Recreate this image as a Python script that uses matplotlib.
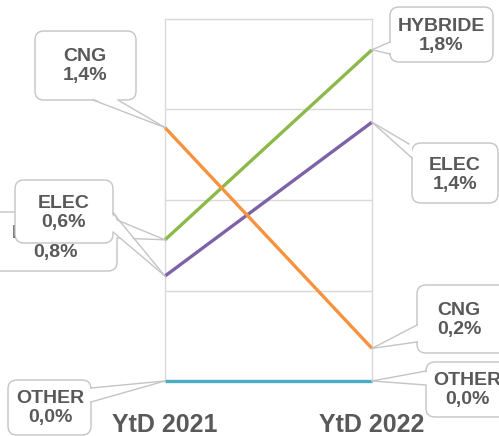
import matplotlib
matplotlib.use('Agg')
import matplotlib.pyplot as plt
from matplotlib.patches import FancyBboxPatch, Polygon
from matplotlib.lines import Line2D
from matplotlib.transforms import Affine2D

plt.rcParams['font.family'] = ['Liberation Sans', 'DejaVu Sans']

# ---- data ----
years = ['YtD 2021', 'YtD 2022']
categories = ['HYBRIDE', 'ELEC', 'CNG', 'OTHER']
values_2021 = [0.78, 0.58, 1.40, 0.00]
values_2022 = [1.83, 1.43, 0.18, 0.00]
colors = ['#8DB84A', '#7E62A8', '#F79240', '#4BACC6']

# ---- layout (pixels, top-left origin) ----
W, H = 499, 436
TXT = '#595959'
EDGE = '#C4C4C4'

fig = plt.figure(figsize=(W / 100, H / 100), dpi=100)
ax = fig.add_axes([165 / W, 1 - 381 / H, (372 - 165) / W, (381 - 19) / H])
ax.set_xlim(0, 1)
ax.set_ylim(0, 2)
for s in ax.spines.values():
    s.set_color('#D9D9D9')
    s.set_linewidth(1)
ax.set_yticks([0.5, 1.0, 1.5])
ax.yaxis.grid(True, color='#D9D9D9', lw=1)
ax.tick_params(axis='y', length=0, labelleft=False)
ax.set_xticks([0, 1])
ax.set_xticklabels(years, fontsize=18, fontweight='bold', color=TXT)
ax.tick_params(axis='x', length=0, pad=23)

for i, cat in enumerate(categories):
    ax.plot([0, 1], [values_2021[i], values_2022[i]], color=colors[i], lw=2.4,
            clip_on=False, solid_capstyle='butt', zorder=3)

pixT = Affine2D().scale(0.01) + fig.dpi_scale_trans


def fmt(v):
    return f"{v:.1f}".replace('.', ',') + '%'


def callout(box, base, text_center, data_xy, text, z):
    x0, y0, x1, y1 = box
    patch = FancyBboxPatch((x0, H - y1), x1 - x0, y1 - y0,
                           boxstyle='round,pad=0,rounding_size=9',
                           transform=pixT, fc='white', ec=EDGE, lw=1,
                           zorder=z)
    fig.add_artist(patch)
    disp = ax.transData.transform(data_xy)
    ptx, pty = pixT.inverted().transform(disp)
    (bx1, by1), (bx2, by2) = base
    b1 = (bx1, H - by1)
    b2 = (bx2, H - by2)
    cx, cy = (x0 + x1) / 2, H - (y0 + y1) / 2

    def inward(p):
        return (p[0] + (cx - p[0]) * 0.05, p[1] + (cy - p[1]) * 0.05)
    poly = Polygon([inward(b1), inward(b2), (ptx, pty)], closed=True,
                   transform=pixT, fc='white', ec='none', zorder=z + 0.1)
    fig.add_artist(poly)
    for b in (b1, b2):
        fig.add_artist(Line2D([b[0], ptx], [b[1], pty], transform=pixT,
                              color=EDGE, lw=1, zorder=z + 0.2))
    fig.text(text_center[0], H - text_center[1], text, transform=pixT,
             ha='center', va='center', fontsize=14, fontweight='bold',
             color=TXT, linespacing=1.15, zorder=z + 0.3)


idx = {c: i for i, c in enumerate(categories)}

callout((35, 31, 136, 100), ((93, 100), (118, 100)), (85, 66),
        (0, values_2021[idx['CNG']]), f"CNG\n{fmt(values_2021[idx['CNG']])}", 10)
callout((-12, 212, 117, 271), ((117, 220), (117, 238)), (55, 243),
        (0, values_2021[idx['HYBRIDE']]), f"HYBRIDE\n{fmt(values_2021[idx['HYBRIDE']])}", 11)
callout((15, 180, 113, 243), ((113, 213), (113, 232)), (64, 213),
        (0, values_2021[idx['ELEC']]), f"ELEC\n{fmt(values_2021[idx['ELEC']])}", 12)
callout((8, 380, 91, 435), ((91, 388), (91, 402)), (50, 408),
        (0, values_2021[idx['OTHER']]), f"OTHER\n{fmt(values_2021[idx['OTHER']])}", 13)

callout((390, 7, 493, 62), ((390, 42), (390, 54)), (441, 36),
        (1, values_2022[idx['HYBRIDE']]), f"HYBRIDE\n{fmt(values_2022[idx['HYBRIDE']])}", 14)
callout((412, 143, 498, 203), ((409, 144), (412, 158)), (455, 175),
        (1, values_2022[idx['ELEC']]), f"ELEC\n{fmt(values_2022[idx['ELEC']])}", 15)
callout((417, 285, 510, 353), ((417, 325), (417, 342)), (459, 320),
        (1, values_2022[idx['CNG']]), f"CNG\n{fmt(values_2022[idx['CNG']])}", 16)
callout((426, 362, 515, 417), ((426, 371), (426, 385)), (467, 390),
        (1, values_2022[idx['OTHER']]), f"OTHER\n{fmt(values_2022[idx['OTHER']])}", 17)

fig.savefig('out.png', dpi=100)
